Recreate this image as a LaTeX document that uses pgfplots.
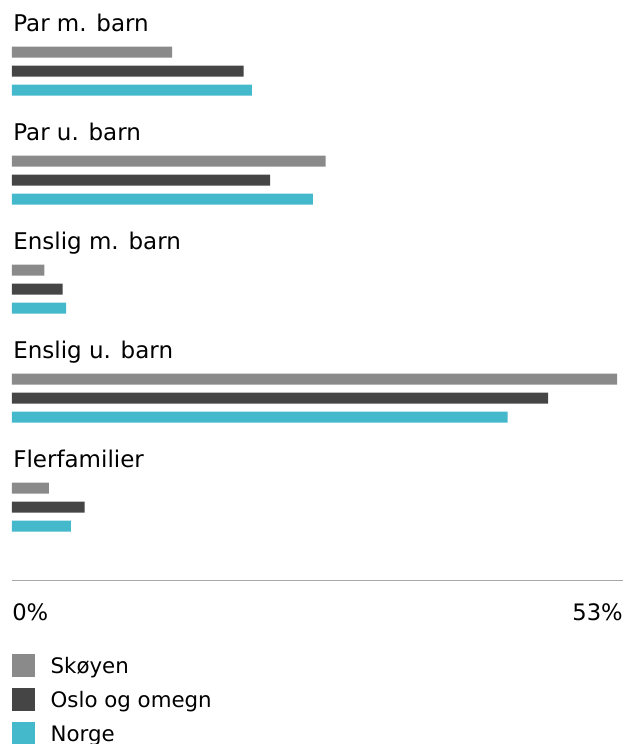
\documentclass[border=0pt]{standalone}
\usepackage{fontspec}
\setmainfont{DejaVu Sans}
\usepackage{pgfplots}
\pgfplotsset{compat=1.18}
\definecolor{cS}{HTML}{8A8A8A}
\definecolor{cO}{HTML}{454545}
\definecolor{cN}{HTML}{45B9CC}
\definecolor{axgray}{HTML}{A8A8A8}
\begin{document}
\begin{tikzpicture}
\begin{axis}[
  scale only axis, width=458.25pt, height=435pt,
  xmin=0, xmax=53, ymin=-580, ymax=0,
  clip=false,
  axis y line=none, axis x line*=bottom,
  x axis line style={axgray, line width=0.75pt, -},
  xtick={0}, xticklabels={0\%},
  extra x ticks={53}, extra x tick labels={53\%},
  major tick length=0pt,
  /pgf/number format/assume math mode=true,
  xticklabel style={anchor=base west, inner sep=0pt, yshift=-30.5pt, font=\fontsize{17}{20}\selectfont},
  extra x tick style={xticklabel style={anchor=base east}},
  xbar, bar width=8.25pt, bar shift=0pt,
  legend style={at={(0,-0.1183)}, anchor=north west, draw=none, fill=none,
    inner sep=0pt, outer sep=0pt, row sep=0pt, column sep=0pt,
    nodes={inner sep=0pt, outer sep=0pt},
    cells={anchor=base west},
    font=\fontsize{16}{19}\selectfont},
  legend image code/.code={\fill[#1] (0pt,-2.55pt) rectangle (16.9pt,14.35pt); \path[fill=none,draw=none] (0pt,-6.85pt) rectangle (29pt,18.65pt);},
]
\addplot[fill=cS, draw=none] coordinates {(13.9,-52) (27.2,-161) (2.8,-270) (52.5,-379) (3.2,-488)};
\addplot[fill=cO, draw=none] coordinates {(20.1,-71) (22.4,-180) (4.4,-289) (46.5,-398) (6.3,-507)};
\addplot[fill=cN, draw=none] coordinates {(20.8,-90) (26.1,-199) (4.7,-308) (43.0,-417) (5.1,-526)};
\legend{Skøyen, Oslo og omegn, Norge}
\begin{scope}[every node/.style={anchor=base west, inner sep=0pt, font=\fontsize{17.25}{20}\selectfont}]
\node at (axis cs:0.09,-31) {Par m. barn};
\node at (axis cs:0.09,-140) {Par u. barn};
\node at (axis cs:0.09,-249) {Enslig m. barn};
\node at (axis cs:0.09,-358) {Enslig u. barn};
\node at (axis cs:0.09,-467) {Flerfamilier};
\end{scope}
\coordinate (tl) at (rel axis cs:0,1);
\end{axis}
\pgfresetboundingbox
\path ([xshift=-9pt]tl) rectangle ([xshift=468.75pt,yshift=-558pt]tl);
\end{tikzpicture}
\end{document}
